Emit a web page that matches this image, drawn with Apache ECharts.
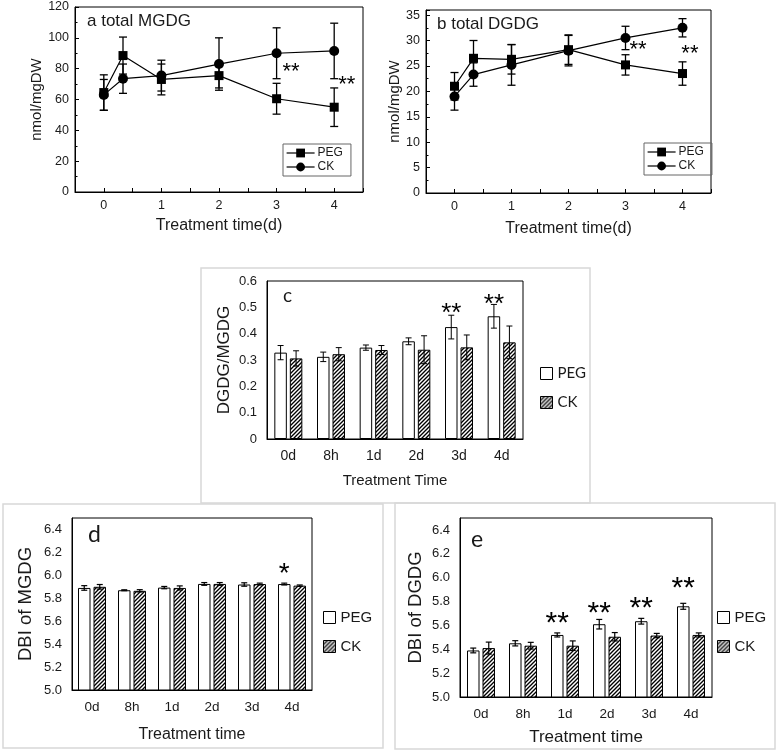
<!DOCTYPE html>
<html><head><meta charset="utf-8">
<script src="https://cdn.jsdelivr.net/npm/echarts@6/dist/echarts.min.js"></script>
<style>html,body{margin:0;padding:0;background:#fff}#c{width:778px;height:752px}</style>
</head><body><div id="c"></div>
<script>
// ---------------- data ----------------
const timeDays = [0, 1/3, 1, 2, 3, 4];          // 0d, 8h, 1d, 2d, 3d, 4d in days
const timeCats = ['0d', '8h', '1d', '2d', '3d', '4d'];

const mgdgPEG    = [64.5, 88.5, 73, 75.5, 60.5, 55];
const mgdgPEGErr = [11.5, 12, 10, 8, 10, 12.5];
const mgdgCK     = [63, 73.5, 75.5, 83, 90, 91.5];
const mgdgCKErr  = [10, 9.5, 10, 17, 16.5, 18];

const dgdgPEG    = [21, 26.5, 26.3, 28.2, 25.2, 23.5];
const dgdgPEGErr = [2.7, 3.5, 2.9, 2.9, 2.0, 2.3];
const dgdgCK     = [19, 23.3, 25.2, 28, 30.5, 32.5];
const dgdgCKErr  = [2.7, 2.3, 4, 3, 2.3, 1.8];

const ratioPEG    = [0.328, 0.312, 0.347, 0.371, 0.425, 0.466];
const ratioPEGErr = [0.027, 0.018, 0.010, 0.013, 0.045, 0.045];
const ratioCK     = [0.306, 0.322, 0.338, 0.339, 0.348, 0.367];
const ratioCKErr  = [0.029, 0.025, 0.017, 0.053, 0.047, 0.062];

const dbiMPEG    = [5.89, 5.87, 5.893, 5.925, 5.92, 5.924];
const dbiMPEGErr = [0.02, 0.004, 0.01, 0.012, 0.015, 0.008];
const dbiMCK     = [5.90, 5.865, 5.89, 5.925, 5.924, 5.91];
const dbiMCKErr  = [0.02, 0.01, 0.018, 0.012, 0.008, 0.006];

const dbiDPEG    = [5.39, 5.45, 5.52, 5.61, 5.635, 5.76];
const dbiDPEGErr = [0.02, 0.022, 0.017, 0.04, 0.024, 0.025];
const dbiDCK     = [5.41, 5.43, 5.43, 5.505, 5.515, 5.52];
const dbiDCKErr  = [0.05, 0.028, 0.04, 0.035, 0.018, 0.017];

// significance marks: [x, y] in data units, with text
const sigA = [[3.25, 81], [4.22, 72.5]];      const sigAText = ['**', '**'];
const sigB = [[3.22, 29.1], [4.13, 28.4]];    const sigBText = ['**', '**'];
const sigC = [[4, 0.497], [5, 0.53]];         const sigCText = ['**', '**'];
const sigD = [[5, 6.06]];                     const sigDText = ['*'];
const sigE = [[2, 5.667], [3, 5.756], [4, 5.798], [5, 5.966]]; const sigEText = ['**', '**', '**', '**'];

// ---------------- helpers ----------------
const FONT = 'Liberation Sans, Arial, sans-serif';
const TXT = '#1a1a1a';

function hatchCanvas() {
  const c = document.createElement('canvas');
  c.width = 4; c.height = 4;
  const g = c.getContext('2d');
  g.fillStyle = '#fff'; g.fillRect(0, 0, 4, 4);
  g.strokeStyle = '#000'; g.lineWidth = 1.35;
  g.beginPath();
  g.moveTo(0, 4); g.lineTo(4, 0);
  g.moveTo(-1, 1); g.lineTo(1, -1);
  g.moveTo(3, 5); g.lineTo(5, 3);
  g.stroke();
  return c;
}
const hatch = { image: hatchCanvas(), repeat: 'repeat' };

function zip(xs, ys, es) { return xs.map((x, i) => es ? [x, ys[i], es[i]] : [x, ys[i]]); }
function idx(ys, es) { return ys.map((y, i) => [i, y, es[i]]); }

function errRender(offset, cap, lw) {
  return function (params, api) {
    const x = api.value(0), v = api.value(1), e = api.value(2);
    const t = api.coord([x, v + e]), b = api.coord([x, v - e]);
    const cx = t[0] + offset;
    const st = { stroke: '#000', lineWidth: lw };
    return { type: 'group', children: [
      { type: 'line', shape: { x1: cx, y1: t[1], x2: cx, y2: b[1] }, style: st },
      { type: 'line', shape: { x1: cx - cap, y1: t[1], x2: cx + cap, y2: t[1] }, style: st },
      { type: 'line', shape: { x1: cx - cap, y1: b[1], x2: cx + cap, y2: b[1] }, style: st }
    ]};
  };
}
function sigRender(texts, size, dx) {
  return function (params, api) {
    const p = api.coord([api.value(0), api.value(1)]);
    return { type: 'text', x: p[0] + dx, y: p[1] + size * 0.22,
      style: { text: texts[params.dataIndex], font: size + 'px ' + FONT, fill: '#000', align: 'center', verticalAlign: 'middle' } };
  };
}

const BW = 12.5, GAP = 3, OFF = (BW + GAP) / 2;

function valueXAxis(g) {
  return { gridIndex: g, type: 'value', min: -0.5, max: 4.5, interval: 0.5,
    name: 'Treatment time(d)', nameLocation: 'middle', nameGap: 26,
    nameTextStyle: { fontFamily: FONT, fontSize: 16, color: TXT },
    axisLine: { onZero: false, lineStyle: { color: '#000', width: 1 } },
    axisTick: { inside: true, length: 4, lineStyle: { color: '#000' } },
    axisLabel: { fontFamily: FONT, fontSize: 12.5, color: TXT, margin: 7,
      formatter: v => (Math.abs(v - Math.round(v)) < 1e-6 ? String(Math.round(v)) : '') },
    splitLine: { show: false } };
}
function catXAxis(g, name, nameGap, fs, nfs) {
  return { gridIndex: g, type: 'category', data: timeCats,
    name: name, nameLocation: 'middle', nameGap: nameGap,
    nameTextStyle: { fontFamily: FONT, fontSize: nfs, color: TXT },
    axisLine: { onZero: false, lineStyle: { color: '#000', width: 1 } },
    axisTick: { show: false },
    axisLabel: { fontFamily: FONT, fontSize: fs, color: TXT, margin: 10 } };
}

const option = {
  backgroundColor: '#fff',
  animation: false,
  graphic: [
    { type: 'rect', shape: { x: 201, y: 268, width: 389, height: 235 }, style: { fill: 'none', stroke: '#d8d8d8', lineWidth: 1.5 } },
    { type: 'rect', shape: { x: 3, y: 504, width: 380, height: 244 }, style: { fill: 'none', stroke: '#d8d8d8', lineWidth: 1.5 } },
    { type: 'rect', shape: { x: 395, y: 503, width: 380, height: 246 }, style: { fill: 'none', stroke: '#d8d8d8', lineWidth: 1.5 } }
  ],
  title: [
    { text: 'a total MGDG', left: 87, top: 13, padding: 0, textStyle: { fontFamily: FONT, fontSize: 17, fontWeight: 'normal', color: TXT } },
    { text: 'b total DGDG', left: 437, top: 16, padding: 0, textStyle: { fontFamily: FONT, fontSize: 17, fontWeight: 'normal', color: TXT } },
    { text: 'c', left: 283, top: 286, padding: 0, textStyle: { fontFamily: 'Lato', fontSize: 19, fontWeight: 'normal', color: TXT } },
    { text: 'd', left: 88, top: 523, padding: 0, textStyle: { fontFamily: 'Lato', fontSize: 23, fontWeight: 'normal', color: TXT } },
    { text: 'e', left: 471, top: 528, padding: 0, textStyle: { fontFamily: 'Lato', fontSize: 23, fontWeight: 'normal', color: TXT } }
  ],
  legend: [
    { data: ['PEG', 'CK'], orient: 'vertical', left: 283, top: 144, padding: [3, 8, 3, 3], itemGap: 2,
      itemWidth: 28, itemHeight: 11, borderColor: '#666', borderWidth: 1, selectedMode: false,
      lineStyle: { width: 1.2 }, textStyle: { fontFamily: FONT, fontSize: 12, color: TXT, padding: [0, 0, 0, -2] } },
    { data: ['PEG', 'CK'], orient: 'vertical', left: 644, top: 143, padding: [3, 8, 3, 3], itemGap: 2,
      itemWidth: 28, itemHeight: 11, borderColor: '#666', borderWidth: 1, selectedMode: false,
      lineStyle: { width: 1.2 }, textStyle: { fontFamily: FONT, fontSize: 12, color: TXT, padding: [0, 0, 0, -2] } },
    { data: [{ name: 'PEG', icon: 'rect', itemStyle: { color: '#fff', borderColor: '#000', borderWidth: 1 } },
             { name: 'CK', icon: 'rect', itemStyle: { color: hatch, borderColor: '#000', borderWidth: 1 } }],
      orient: 'vertical', left: 540, top: 366, padding: 0, itemGap: 14, itemWidth: 12, itemHeight: 12, selectedMode: false,
      textStyle: { fontFamily: 'Lato', fontSize: 15, color: TXT } },
    { data: [{ name: 'PEG', icon: 'rect', itemStyle: { color: '#fff', borderColor: '#000', borderWidth: 1 } },
             { name: 'CK', icon: 'rect', itemStyle: { color: hatch, borderColor: '#000', borderWidth: 1 } }],
      orient: 'vertical', left: 323, top: 610, padding: 0, itemGap: 14, itemWidth: 12, itemHeight: 12, selectedMode: false,
      textStyle: { fontFamily: FONT, fontSize: 15, color: TXT } },
    { data: [{ name: 'PEG', icon: 'rect', itemStyle: { color: '#fff', borderColor: '#000', borderWidth: 1 } },
             { name: 'CK', icon: 'rect', itemStyle: { color: hatch, borderColor: '#000', borderWidth: 1 } }],
      orient: 'vertical', left: 717, top: 610, padding: 0, itemGap: 14, itemWidth: 12, itemHeight: 12, selectedMode: false,
      textStyle: { fontFamily: FONT, fontSize: 15, color: TXT } }
  ],
  grid: [
    { left: 75, top: 7, width: 288, height: 185, show: true, borderColor: '#000', borderWidth: 1, backgroundColor: 'transparent' },
    { left: 426, top: 10, width: 285, height: 183, show: true, borderColor: '#000', borderWidth: 1, backgroundColor: 'transparent' },
    { left: 267, top: 281, width: 256, height: 158, show: true, borderColor: '#000', borderWidth: 1, backgroundColor: 'transparent' },
    { left: 72, top: 518, width: 240, height: 172, show: true, borderColor: '#000', borderWidth: 1, backgroundColor: 'transparent' },
    { left: 460, top: 518, width: 252, height: 179, show: true, borderColor: '#000', borderWidth: 1, backgroundColor: 'transparent' }
  ],
  xAxis: [
    valueXAxis(0),
    Object.assign(valueXAxis(1), { nameGap: 28 }),
    catXAxis(2, 'Treatment Time', 34, 14, 15),
    catXAxis(3, 'Treatment time', 37, 13.5, 16),
    catXAxis(4, 'Treatment time', 32, 13.5, 17)
  ],
  yAxis: [
    { gridIndex: 0, type: 'value', min: 0, max: 120, interval: 20,
      name: 'nmol/mgDW', nameLocation: 'middle', nameGap: 28, nameRotate: 90,
      nameTextStyle: { fontFamily: FONT, fontSize: 15, color: TXT },
      axisLine: { show: true, onZero: false, lineStyle: { color: '#000' } },
      axisTick: { show: true, inside: true, length: 4, lineStyle: { color: '#000' } },
      minorTick: { show: true, splitNumber: 2, length: 2.5, lineStyle: { color: '#000' } },
      axisLabel: { fontFamily: FONT, fontSize: 12.5, color: TXT, margin: 6 },
      splitLine: { show: false } },
    { gridIndex: 1, type: 'value', min: 0, max: 36, interval: 5,
      name: 'nmol/mgDW', nameLocation: 'middle', nameGap: 22, nameRotate: 90,
      nameTextStyle: { fontFamily: FONT, fontSize: 15, color: TXT },
      axisLine: { show: true, onZero: false, lineStyle: { color: '#000' } },
      axisTick: { show: true, inside: true, length: 4, lineStyle: { color: '#000' } },
      minorTick: { show: true, splitNumber: 2, length: 2.5, lineStyle: { color: '#000' } },
      axisLabel: { fontFamily: FONT, fontSize: 12.5, color: TXT, margin: 6, showMaxLabel: false },
      splitLine: { show: false } },
    { gridIndex: 2, type: 'value', min: 0, max: 0.6, interval: 0.1,
      name: 'DGDG/MGDG', nameLocation: 'middle', nameGap: 34, nameRotate: 90,
      nameTextStyle: { fontFamily: FONT, fontSize: 17, color: TXT },
      axisLine: { show: true, onZero: false, lineStyle: { color: '#000' } },
      axisTick: { show: false },
      axisLabel: { fontFamily: FONT, fontSize: 13, color: TXT, margin: 10, formatter: v => (v === 0 ? '0' : v.toFixed(1)) },
      splitLine: { show: false } },
    { gridIndex: 3, type: 'value', min: 5.0, max: 6.5, interval: 0.2,
      name: 'DBI of MGDG', nameLocation: 'middle', nameGap: 37, nameRotate: 90,
      nameTextStyle: { fontFamily: FONT, fontSize: 18.5, color: TXT },
      axisLine: { show: true, onZero: false, lineStyle: { color: '#000' } },
      axisTick: { show: false },
      axisLabel: { fontFamily: FONT, fontSize: 13, color: TXT, margin: 10, showMaxLabel: false, formatter: v => v.toFixed(1) },
      splitLine: { show: false } },
    { gridIndex: 4, type: 'value', min: 5.0, max: 6.5, interval: 0.2,
      name: 'DBI of DGDG', nameLocation: 'middle', nameGap: 35, nameRotate: 90,
      nameTextStyle: { fontFamily: FONT, fontSize: 18.5, color: TXT },
      axisLine: { show: true, onZero: false, lineStyle: { color: '#000' } },
      axisTick: { show: false },
      axisLabel: { fontFamily: FONT, fontSize: 13, color: TXT, margin: 10, showMaxLabel: false, formatter: v => v.toFixed(1) },
      splitLine: { show: false } }
  ],
  series: [
    // ---- a ----
    { name: 'PEG', type: 'line', xAxisIndex: 0, yAxisIndex: 0, data: zip(timeDays, mgdgPEG), symbol: 'rect', symbolSize: 9,
      itemStyle: { color: '#000' }, lineStyle: { color: '#000', width: 1.2 }, z: 3 },
    { name: 'CK', type: 'line', xAxisIndex: 0, yAxisIndex: 0, data: zip(timeDays, mgdgCK), symbol: 'circle', symbolSize: 10,
      itemStyle: { color: '#000' }, lineStyle: { color: '#000', width: 1.2 }, z: 3 },
    { type: 'custom', xAxisIndex: 0, yAxisIndex: 0, data: zip(timeDays, mgdgPEG, mgdgPEGErr), renderItem: errRender(0, 4, 1.3), z: 2 },
    { type: 'custom', xAxisIndex: 0, yAxisIndex: 0, data: zip(timeDays, mgdgCK, mgdgCKErr), renderItem: errRender(0, 4, 1.3), z: 2 },
    { type: 'custom', xAxisIndex: 0, yAxisIndex: 0, data: sigA, renderItem: sigRender(sigAText, 22, 0), z: 4 },
    // ---- b ----
    { name: 'PEG', type: 'line', xAxisIndex: 1, yAxisIndex: 1, data: zip(timeDays, dgdgPEG), symbol: 'rect', symbolSize: 9,
      itemStyle: { color: '#000' }, lineStyle: { color: '#000', width: 1.2 }, z: 3 },
    { name: 'CK', type: 'line', xAxisIndex: 1, yAxisIndex: 1, data: zip(timeDays, dgdgCK), symbol: 'circle', symbolSize: 10,
      itemStyle: { color: '#000' }, lineStyle: { color: '#000', width: 1.2 }, z: 3 },
    { type: 'custom', xAxisIndex: 1, yAxisIndex: 1, data: zip(timeDays, dgdgPEG, dgdgPEGErr), renderItem: errRender(0, 4, 1.3), z: 2 },
    { type: 'custom', xAxisIndex: 1, yAxisIndex: 1, data: zip(timeDays, dgdgCK, dgdgCKErr), renderItem: errRender(0, 4, 1.3), z: 2 },
    { type: 'custom', xAxisIndex: 1, yAxisIndex: 1, data: sigB, renderItem: sigRender(sigBText, 22, 0), z: 4 },
    // ---- c ----
    { name: 'PEG', type: 'bar', xAxisIndex: 2, yAxisIndex: 2, data: ratioPEG, barWidth: BW, barGap: (GAP / BW * 100) + '%',
      itemStyle: { color: '#fff', borderColor: '#000', borderWidth: 1 } },
    { name: 'CK', type: 'bar', xAxisIndex: 2, yAxisIndex: 2, data: ratioCK, barWidth: BW,
      itemStyle: { color: hatch, borderColor: '#000', borderWidth: 1 } },
    { type: 'custom', xAxisIndex: 2, yAxisIndex: 2, data: idx(ratioPEG, ratioPEGErr), renderItem: errRender(-OFF, 3, 1), z: 5 },
    { type: 'custom', xAxisIndex: 2, yAxisIndex: 2, data: idx(ratioCK, ratioCKErr), renderItem: errRender(OFF, 3, 1), z: 5 },
    { type: 'custom', xAxisIndex: 2, yAxisIndex: 2, data: sigC, renderItem: sigRender(sigCText, 26, -OFF), z: 5 },
    // ---- d ----
    { name: 'PEG', type: 'bar', xAxisIndex: 3, yAxisIndex: 3, data: dbiMPEG, barWidth: BW, barGap: (GAP / BW * 100) + '%',
      itemStyle: { color: '#fff', borderColor: '#000', borderWidth: 1 } },
    { name: 'CK', type: 'bar', xAxisIndex: 3, yAxisIndex: 3, data: dbiMCK, barWidth: BW,
      itemStyle: { color: hatch, borderColor: '#000', borderWidth: 1 } },
    { type: 'custom', xAxisIndex: 3, yAxisIndex: 3, data: idx(dbiMPEG, dbiMPEGErr), renderItem: errRender(-OFF, 3, 1.2), z: 5 },
    { type: 'custom', xAxisIndex: 3, yAxisIndex: 3, data: idx(dbiMCK, dbiMCKErr), renderItem: errRender(OFF, 3, 1.2), z: 5 },
    { type: 'custom', xAxisIndex: 3, yAxisIndex: 3, data: sigD, renderItem: sigRender(sigDText, 28, -OFF), z: 5 },
    // ---- e ----
    { name: 'PEG', type: 'bar', xAxisIndex: 4, yAxisIndex: 4, data: dbiDPEG, barWidth: BW, barGap: (GAP / BW * 100) + '%',
      itemStyle: { color: '#fff', borderColor: '#000', borderWidth: 1 } },
    { name: 'CK', type: 'bar', xAxisIndex: 4, yAxisIndex: 4, data: dbiDCK, barWidth: BW,
      itemStyle: { color: hatch, borderColor: '#000', borderWidth: 1 } },
    { type: 'custom', xAxisIndex: 4, yAxisIndex: 4, data: idx(dbiDPEG, dbiDPEGErr), renderItem: errRender(-OFF, 3, 1.2), z: 5 },
    { type: 'custom', xAxisIndex: 4, yAxisIndex: 4, data: idx(dbiDCK, dbiDCKErr), renderItem: errRender(OFF, 3, 1.2), z: 5 },
    { type: 'custom', xAxisIndex: 4, yAxisIndex: 4, data: sigE, renderItem: sigRender(sigEText, 30, -OFF), z: 5 }
  ]
};

const chart = echarts.init(document.getElementById('c'));
chart.setOption(option);
</script>
</body></html>
